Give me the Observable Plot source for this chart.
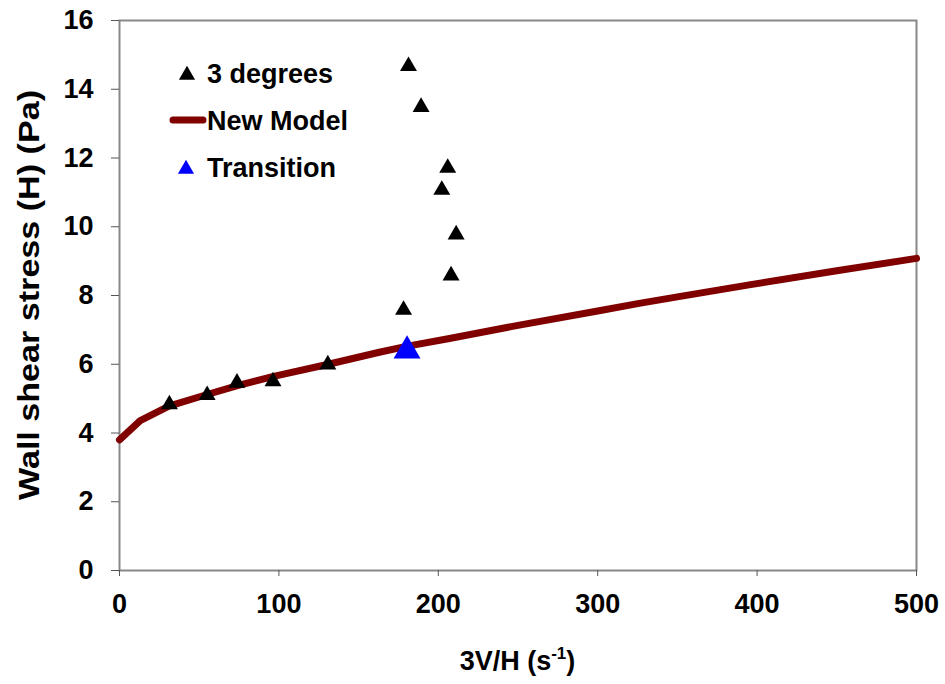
<!DOCTYPE html>
<html>
<head>
<meta charset="utf-8">
<script src="https://cdn.jsdelivr.net/npm/d3@7"></script>
<script src="https://cdn.jsdelivr.net/npm/@observablehq/plot@0.6"></script>
<style>
  body { margin: 0; background: #fff; }
  svg { font-family: "Liberation Sans", Arial, sans-serif; }
</style>
</head>
<body>
<div id="chart"></div>
<script>
// 3 degrees data (shear rate 3V/H, wall shear stress)
const degX = [31.3, 55, 73.7, 96.3, 130.7, 178.2, 181.3, 189.2, 205.9, 202.2, 211.2, 208];
const degY = [4.83, 5.10, 5.46, 5.50, 5.99, 7.58, 14.67, 13.48, 11.71, 11.07, 9.77, 8.58];
// New model curve
const modelX = [0, 13, 31, 55, 74, 96, 131, 163, 180, 207, 250, 300, 326, 350, 395, 450, 500];
const modelY = [3.80, 4.36, 4.78, 5.12, 5.38, 5.64, 6.00, 6.35, 6.52, 6.75, 7.13, 7.55, 7.77, 7.96, 8.31, 8.72, 9.08];
// Transition point
const transX = [180.4];
const transY = [6.39];
// tick labels
const xTicks = [0, 100, 200, 300, 400, 500];
const yTicks = [0, 2, 4, 6, 8, 10, 12, 14, 16];

const deg = degX.map((x, i) => ({x, y: degY[i]}));
const model = modelX.map((x, i) => ({x, y: modelY[i]}));
const trans = transX.map((x, i) => ({x, y: transY[i]}));

const W = 945, H = 684;
const mL = 119, mR = 29, mT = 20, mB = 114;

const plot = Plot.plot({
  width: W, height: H,
  marginLeft: mL, marginRight: mR, marginTop: mT, marginBottom: mB,
  style: {fontFamily: "Liberation Sans, Arial, sans-serif", fontSize: "27px", fontWeight: "bold", color: "#000", background: "#fff"},
  x: {domain: [0, 500], ticks: xTicks, label: null},
  y: {domain: [0, 16], ticks: yTicks, label: null},
  marks: [
    Plot.frame({stroke: "#888", strokeWidth: 2}),
    Plot.axisX({ticks: xTicks, tickSize: 6, tickPadding: 17, label: null, stroke: "#555", fontWeight: "bold", fontSize: 27}),
    Plot.axisY({ticks: yTicks, tickSize: 8, tickPadding: 18, label: null, stroke: "#555", fontWeight: "bold", fontSize: 27}),
    Plot.line(model, {x: "x", y: "y", stroke: "#800000", strokeWidth: 7, curve: "linear", strokeLinejoin: "round"}),
    Plot.dot(deg, {x: "x", y: "y", symbol: "triangle", r: 6.3, fill: "#000", stroke: "none"}),
    Plot.dot(trans, {x: "x", y: "y", symbol: "triangle", r: 10, fill: "#0000ff", stroke: "none"})
  ]
});

document.getElementById("chart").appendChild(plot);

const svg = d3.select(plot);
// axis titles
svg.append("text")
  .attr("transform", `translate(39,${(mT + H - mB) / 2}) rotate(-90)`)
  .attr("text-anchor", "middle")
  .attr("font-size", 29).attr("font-weight", "bold").attr("fill", "#000")
  .attr("textLength", 410).attr("lengthAdjust", "spacingAndGlyphs")
  .text("Wall shear stress (H) (Pa)");

const xt = svg.append("text")
  .attr("x", (mL + W - mR) / 2).attr("y", 670)
  .attr("text-anchor", "middle")
  .attr("font-size", 27).attr("font-weight", "bold").attr("fill", "#000");
xt.append("tspan").text("3V/H (s");
xt.append("tspan").attr("font-size", 17).attr("dy", -11).text("-1");
xt.append("tspan").attr("dy", 11).text(")");

// legend
const lg = svg.append("g").attr("font-size", 27).attr("font-weight", "bold").attr("fill", "#000").attr("text-anchor", "start");
const tri = d3.symbol(d3.symbolTriangle, Math.PI * 6 * 6);
lg.append("path").attr("d", tri()).attr("transform", "translate(187,75)").attr("fill", "#000");
lg.append("text").attr("x", 207).attr("y", 73).attr("dy", "0.36em").text("3 degrees");
lg.append("line").attr("x1", 173).attr("x2", 203).attr("y1", 120).attr("y2", 120)
  .attr("stroke", "#800000").attr("stroke-width", 7).attr("stroke-linecap", "round");
lg.append("text").attr("x", 207).attr("y", 120).attr("dy", "0.36em").text("New Model");
lg.append("path").attr("d", tri()).attr("transform", "translate(186,169)").attr("fill", "#0000ff");
lg.append("text").attr("x", 207).attr("y", 167).attr("dy", "0.36em").text("Transition");
</script>
</body>
</html>
